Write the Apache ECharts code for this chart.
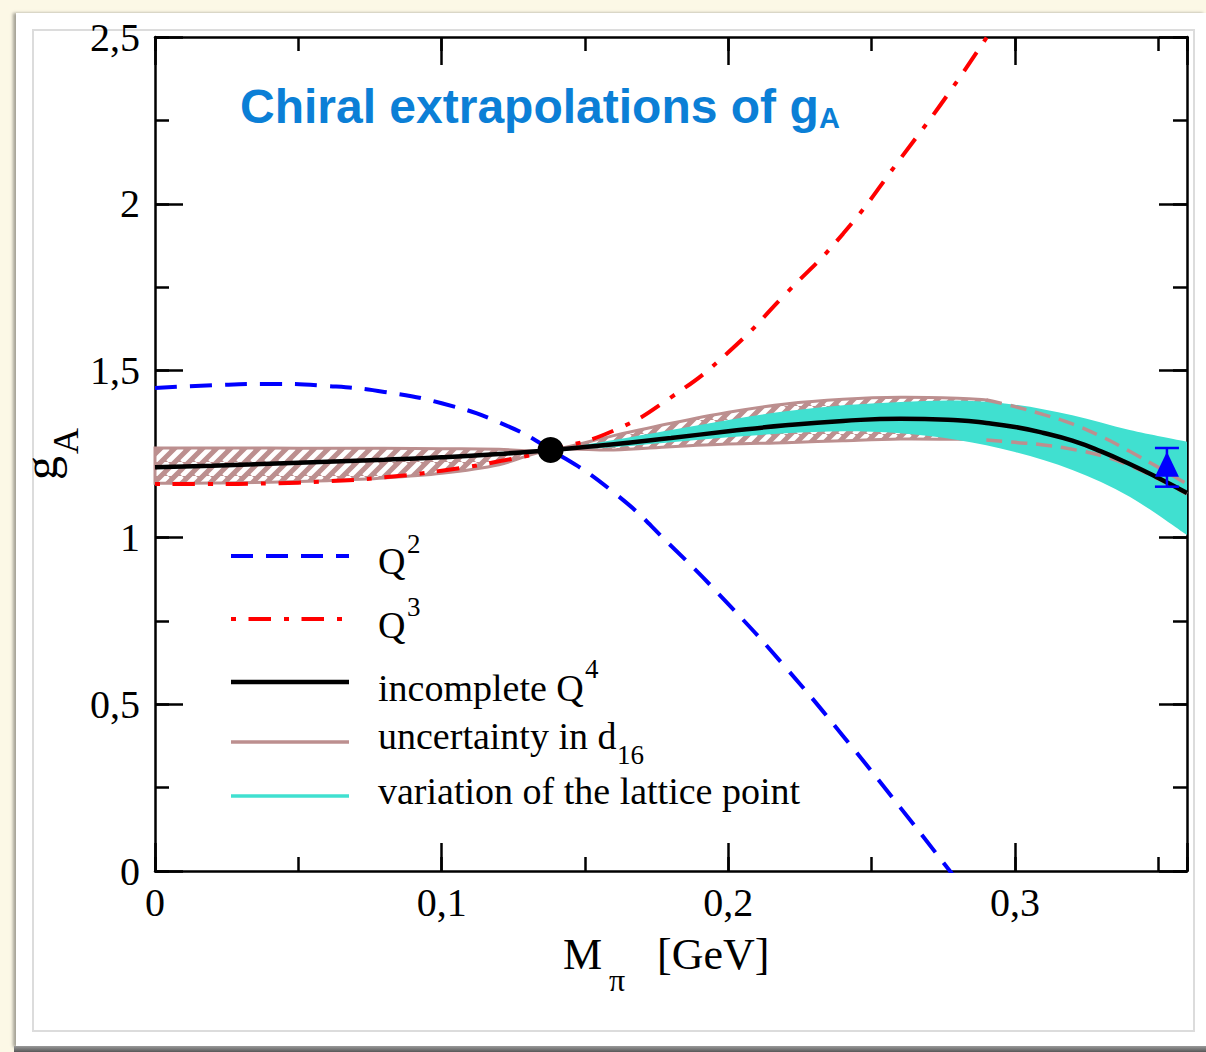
<!DOCTYPE html>
<html>
<head>
<meta charset="utf-8">
<title>Chiral extrapolations of gA</title>
<script src="https://cdn.jsdelivr.net/npm/echarts@6/dist/echarts.min.js"></script>
<style>
  html, body { margin: 0; padding: 0; width: 1206px; height: 1052px; overflow: hidden; background: #fcf8e6; }
  #card { position: absolute; left: 16px; top: 13px; width: 1190px; height: 1034px; background: #ffffff;
          box-shadow: -3px 0 3px rgba(0, 0, 0, 0.35); }
  #frame { position: absolute; left: 32px; top: 29px; width: 1159px; height: 999px;
           border: 2px solid #dcdcdc; background: #ffffff; }
  #foot { position: absolute; left: 14px; top: 1046px; width: 1192px; height: 6px;
          background: linear-gradient(#9a9a9a, #585858); }
  #chart { position: absolute; left: 0; top: 0; width: 1206px; height: 1052px; }
</style>
</head>
<body>
<div id="card"></div>
<div id="frame"></div>
<div id="foot"></div>
<div id="chart"></div>
<script>
// ---- data: g_A versus pion mass M_pi [GeV] ----
// Q^2 (blue dashed)
const q2X = [0, 0.02, 0.04, 0.06, 0.08, 0.10, 0.12, 0.138, 0.16, 0.18, 0.20, 0.22, 0.24, 0.26, 0.28];
const q2Y = [1.448, 1.456, 1.460, 1.454, 1.436, 1.402, 1.345, 1.263, 1.135, 0.975, 0.800, 0.610, 0.405, 0.190, -0.030];
// Q^3 (red dash-dot)
const q3X = [0, 0.02, 0.04, 0.06, 0.08, 0.10, 0.12, 0.138, 0.16, 0.18, 0.20, 0.22, 0.24, 0.26, 0.28, 0.30];
const q3Y = [1.160, 1.160, 1.162, 1.168, 1.180, 1.200, 1.228, 1.262, 1.320, 1.420, 1.555, 1.730, 1.910, 2.135, 2.370, 2.630];
// incomplete Q^4 (black)
const q4X = [0, 0.02, 0.04, 0.06, 0.08, 0.10, 0.12, 0.138, 0.16, 0.18, 0.20, 0.22, 0.24, 0.26, 0.28, 0.29, 0.30, 0.31, 0.32, 0.33, 0.34, 0.35, 0.36];
const q4Y = [1.210, 1.215, 1.221, 1.227, 1.233, 1.240, 1.250, 1.262, 1.279, 1.298, 1.318, 1.336, 1.349, 1.356, 1.351, 1.343, 1.331, 1.313, 1.290, 1.258, 1.220, 1.178, 1.133];
// uncertainty in d16: hatched band
const d16X  = [0, 0.02, 0.04, 0.06, 0.08, 0.10, 0.12, 0.138, 0.16, 0.18, 0.20, 0.22, 0.24, 0.26, 0.28, 0.29];
const d16Lo = [1.162, 1.163, 1.165, 1.170, 1.178, 1.192, 1.218, 1.262, 1.262, 1.272, 1.280, 1.284, 1.290, 1.295, 1.294, 1.292];
const d16Hi = [1.268, 1.268, 1.268, 1.267, 1.267, 1.266, 1.264, 1.262, 1.305, 1.342, 1.375, 1.400, 1.414, 1.420, 1.417, 1.412];
// uncertainty in d16: dashed continuation of the band edges
const d16TailX  = [0.29, 0.30, 0.31, 0.32, 0.33, 0.34, 0.35, 0.36];
const d16TailLo = [1.292, 1.285, 1.277, 1.264, 1.245, 1.215, 1.175, 1.130];
const d16TailHi = [1.412, 1.392, 1.368, 1.340, 1.303, 1.258, 1.210, 1.160];
// variation of the lattice point (turquoise band)
const latX  = [0.138, 0.15, 0.16, 0.18, 0.20, 0.22, 0.24, 0.26, 0.28, 0.30, 0.32, 0.34, 0.36];
const latLo = [1.262, 1.266, 1.270, 1.285, 1.300, 1.312, 1.318, 1.312, 1.292, 1.256, 1.202, 1.122, 1.007];
const latHi = [1.262, 1.278, 1.292, 1.322, 1.352, 1.378, 1.396, 1.406, 1.410, 1.398, 1.366, 1.322, 1.287];
// physical point and lattice point (x, y, error)
const physPoint = [0.138, 1.262];
const latticePoint = [0.353, 1.210, 0.058];

const zip = (xs, ys) => xs.map((x, i) => [x, ys[i]]);

const SERIF = '"Liberation Serif", "Times New Roman", serif';
const SANS = '"Liberation Sans", Arial, Helvetica, sans-serif';
const ROSY = '#bc8f8f';
const TURQ = '#40e0d0';

// diagonal hatch tile for the d16 band
function hatchTile() {
  const s = 14;
  const c = document.createElement('canvas');
  c.width = s; c.height = s;
  const g = c.getContext('2d');
  g.fillStyle = ROSY;
  g.fillRect(0, 0, s, s);
  g.strokeStyle = '#ffffff';
  g.lineWidth = 4.8;
  g.beginPath();
  for (const o of [-s, 0, s]) { g.moveTo(o, s); g.lineTo(o + s, 0); }
  g.stroke();
  return c;
}

// smooth path through pixel points (Catmull-Rom as cubic Beziers)
function curvePath(pts, cmd) {
  let d = cmd + pts[0][0] + ' ' + pts[0][1];
  for (let i = 0; i < pts.length - 1; i++) {
    const p0 = pts[i - 1] || pts[i], p1 = pts[i], p2 = pts[i + 1], p3 = pts[i + 2] || pts[i + 1];
    const c1x = p1[0] + (p2[0] - p0[0]) / 6, c1y = p1[1] + (p2[1] - p0[1]) / 6;
    const c2x = p2[0] - (p3[0] - p1[0]) / 6, c2y = p2[1] - (p3[1] - p1[1]) / 6;
    d += ' C' + c1x + ' ' + c1y + ' ' + c2x + ' ' + c2y + ' ' + p2[0] + ' ' + p2[1];
  }
  return d;
}

// closed band between a lower and an upper curve
function bandRenderer(xs, lo, hi, style) {
  return function (params, api) {
    if (params.dataIndex !== 0) return null;
    const up = xs.map((x, i) => api.coord([x, hi[i]]));
    const down = xs.map((x, i) => api.coord([x, lo[i]])).reverse();
    const d = curvePath(up, 'M') + ' ' + curvePath(down, 'L') + ' Z';
    return { type: 'path', shape: { pathData: d }, style: style };
  };
}

function errorBarRenderer(params, api) {
  const x = api.value(0), y = api.value(1), e = api.value(2);
  const top = api.coord([x, y + e]);
  const bot = api.coord([x, y - e]);
  const hw = 12;
  const st = { stroke: '#0000ff', lineWidth: 2.5 };
  return {
    type: 'group',
    children: [
      { type: 'line', shape: { x1: top[0], y1: top[1], x2: bot[0], y2: bot[1] }, style: st },
      { type: 'line', shape: { x1: top[0] - hw, y1: top[1], x2: top[0] + hw, y2: top[1] }, style: st },
      { type: 'line', shape: { x1: bot[0] - hw, y1: bot[1], x2: bot[0] + hw, y2: bot[1] }, style: st }
    ]
  };
}

const decimalComma = v => String(+v.toFixed(2)).replace('.', ',');

function xAxisDef(position, interval, tickLen, withLabels, withLine) {
  return {
    type: 'value', position: position, min: 0, max: 0.36, interval: interval,
    axisLine: { show: withLine, onZero: false, lineStyle: { color: '#000', width: 2.5 } },
    axisTick: { show: true, inside: true, length: tickLen, lineStyle: { color: '#000', width: 2.5 } },
    axisLabel: {
      show: withLabels, margin: 11, color: '#000', fontFamily: SERIF, fontSize: 40,
      formatter: v => (Math.abs(v * 10 - Math.round(v * 10)) < 1e-6 ? decimalComma(v) : '')
    },
    splitLine: { show: false }
  };
}

function yAxisDef(position, interval, tickLen, withLabels, withLine) {
  return {
    type: 'value', position: position, min: 0, max: 2.5, interval: interval,
    axisLine: { show: withLine, onZero: false, lineStyle: { color: '#000', width: 2.5 } },
    axisTick: { show: true, inside: true, length: tickLen, lineStyle: { color: '#000', width: 2.5 } },
    axisLabel: { show: withLabels, margin: 15, color: '#000', fontFamily: SERIF, fontSize: 40, formatter: decimalComma },
    splitLine: { show: false }
  };
}

// text placed by its baseline
function txt(x, baseline, text, size, extra) {
  const o = Object.assign({ family: SERIF, weight: 'normal', color: '#000', align: 'left', rotation: 0 }, extra || {});
  return {
    type: 'text', x: x, y: baseline - 0.31 * size, rotation: o.rotation, z: 100,
    style: {
      text: text, fill: o.color, align: o.align, verticalAlign: 'middle',
      font: o.weight + ' ' + size + 'px ' + o.family
    }
  };
}

function legendLine(y, color, width, dash) {
  return {
    type: 'line', z: 100,
    shape: { x1: 231, y1: y, x2: 349, y2: y },
    style: { stroke: color, lineWidth: width, lineDash: dash || null }
  };
}

const chart = echarts.init(document.getElementById('chart'), null, { renderer: 'svg' });

const option = {
  animation: false,
  backgroundColor: 'transparent',
  grid: { left: 155, top: 37, right: 19, bottom: 181, containLabel: false },
  xAxis: [
    xAxisDef('bottom', 0.1, 28, true, true),
    xAxisDef('bottom', 0.05, 14, false, false),
    xAxisDef('top', 0.1, 28, false, true),
    xAxisDef('top', 0.05, 14, false, false)
  ],
  yAxis: [
    yAxisDef('left', 0.5, 28, true, true),
    yAxisDef('left', 0.25, 14, false, false),
    yAxisDef('right', 0.5, 28, false, true),
    yAxisDef('right', 0.25, 14, false, false)
  ],
  series: [
    {
      name: 'uncertainty in d16', type: 'custom', z: 1, silent: true,
      renderItem: bandRenderer(d16X, d16Lo, d16Hi, {
        fill: { image: hatchTile(), repeat: 'repeat' }, stroke: ROSY, lineWidth: 3
      }),
      data: d16X.map((x, i) => [x, d16Lo[i], d16Hi[i]]),
      encode: { x: 0, y: [1, 2] }
    },
    {
      name: 'variation of the lattice point', type: 'custom', z: 2, silent: true,
      renderItem: bandRenderer(latX, latLo, latHi, { fill: TURQ, stroke: null }),
      data: latX.map((x, i) => [x, latLo[i], latHi[i]]),
      encode: { x: 0, y: [1, 2] }
    },
    {
      name: 'd16 upper', type: 'line', z: 3, silent: true, smooth: true, showSymbol: false,
      data: zip(d16TailX, d16TailHi),
      lineStyle: { color: ROSY, width: 3.5, type: [16, 9] }
    },
    {
      name: 'd16 lower', type: 'line', z: 3, silent: true, smooth: true, showSymbol: false,
      data: zip(d16TailX, d16TailLo),
      lineStyle: { color: ROSY, width: 3.5, type: [16, 9] }
    },
    {
      name: 'Q2', type: 'line', z: 4, silent: true, smooth: true, showSymbol: false, clip: true,
      data: zip(q2X, q2Y),
      lineStyle: { color: '#0000ff', width: 4, type: [22, 13] }
    },
    {
      name: 'Q3', type: 'line', z: 4, silent: true, smooth: true, showSymbol: false, clip: true,
      data: zip(q3X, q3Y),
      lineStyle: { color: '#ff0000', width: 4, type: [5, 12.5, 22.5, 13] }
    },
    {
      name: 'incomplete Q4', type: 'line', z: 5, silent: true, smooth: true, showSymbol: false,
      data: zip(q4X, q4Y),
      lineStyle: { color: '#000000', width: 4.5 }
    },
    {
      name: 'physical point', type: 'scatter', z: 6, silent: true,
      data: [physPoint], symbol: 'circle', symbolSize: 26,
      itemStyle: { color: '#000000', opacity: 1 }
    },
    {
      name: 'lattice error', type: 'custom', z: 7, silent: true,
      renderItem: errorBarRenderer,
      data: [latticePoint],
      encode: { x: 0, y: 1 }
    },
    {
      name: 'lattice point', type: 'scatter', z: 8, silent: true,
      data: [latticePoint.slice(0, 2)], symbol: 'triangle', symbolSize: [24, 25], symbolOffset: [0, -3],
      itemStyle: { color: '#0000ff', opacity: 1 }
    }
  ],
  graphic: [
    // title
    txt(240, 121, 'Chiral extrapolations of g', 48, { family: SANS, weight: 'bold', color: '#0b7fd6' }),
    txt(819, 127, 'A', 29, { family: SANS, weight: 'bold', color: '#0b7fd6' }),
    // axis titles
    txt(563, 968, 'M', 44),
    txt(609, 990, 'π', 32),
    txt(657, 968, '[GeV]', 44),
    { type: 'text', x: 40, y: 468, rotation: Math.PI / 2, z: 100,
      style: { text: 'g', fill: '#000', align: 'center', verticalAlign: 'middle', font: '48px ' + SERIF } },
    { type: 'text', x: 66, y: 441, rotation: Math.PI / 2, z: 100,
      style: { text: 'A', fill: '#000', align: 'center', verticalAlign: 'middle', font: '36px ' + SERIF } },
    // legend
    legendLine(556, '#0000ff', 4, [22, 13]),
    legendLine(619, '#ff0000', 4, [5, 12.5, 22.5, 13]),
    legendLine(682, '#000000', 4.5),
    legendLine(742, ROSY, 3.5),
    legendLine(796, TURQ, 3.5),
    txt(378, 573, 'Q', 38),
    txt(407, 552, '2', 27),
    txt(378, 637, 'Q', 38),
    txt(407, 615, '3', 27),
    txt(378, 700, 'incomplete Q', 38),
    txt(585, 677, '4', 27),
    txt(378, 748, 'uncertainty in d', 38),
    txt(617, 763, '16', 27),
    txt(378, 803, 'variation of the lattice point', 38)
  ]
};

chart.setOption(option);
</script>
</body>
</html>
